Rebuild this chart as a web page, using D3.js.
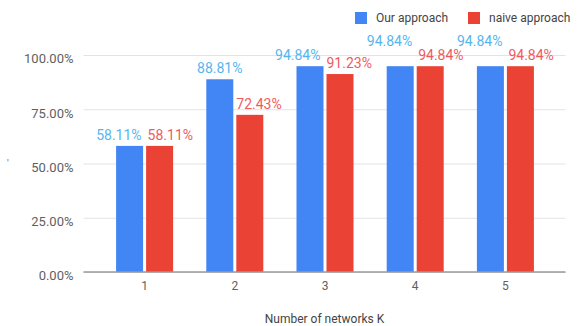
<html>
<head>
<meta charset="utf-8">
<title>Number of networks K</title>
<script src="https://d3js.org/d3.v7.min.js"></script>
<style>
  body { margin: 0; background: #fff; }
  text { font-family: Roboto, "Noto Sans", sans-serif; }
</style>
</head>
<body>
<svg width="577" height="326"></svg>
<script>
// data
var categories = ["1", "2", "3", "4", "5"];
var seriesNames = ["Our approach", "naive approach"];
var ourApproach = [0.5811, 0.8881, 0.9484, 0.9484, 0.9484];
var naiveApproach = [0.5811, 0.7243, 0.9123, 0.9484, 0.9484];
var yTicks = [0, 0.25, 0.5, 0.75, 1];

var barColors = ["#4285f4", "#ea4335"];
var labelColors = ["#55b6ef", "#ef5a60"];

var svg = d3.select("svg");
var gridLeft = 83.5, gridRight = 565.5;

var x0 = d3.scaleBand().domain(categories).range([99.5, 550.5])
  .paddingInner(0.368).paddingOuter(0.184);
var x1 = d3.scaleBand().domain(seriesNames).range([0, x0.bandwidth()]).paddingInner(0.1);
var y = d3.scaleLinear().domain([0, 1]).range([272, 55]);
var fmt = d3.format(".2%");

// y axis + gridlines
var yAxis = svg.append("g").attr("transform", "translate(" + gridLeft + ",0)")
  .call(d3.axisLeft(y).tickValues(yTicks).tickFormat(fmt)
    .tickSize(-(gridRight - gridLeft)).tickPadding(10));
yAxis.select(".domain").remove();
yAxis.selectAll("line").attr("stroke", "#e3e3e3");
yAxis.selectAll("text").attr("fill", "#5f5f5f").attr("font-size", 13).attr("dy", "0.6em");

// bars
var rows = categories.map(function(c, i) { return [ourApproach[i], naiveApproach[i]]; });
var groups = svg.append("g").selectAll("g").data(rows).join("g")
  .attr("transform", function(d, i) { return "translate(" + x0(categories[i]) + ",0)"; });
groups.selectAll("rect").data(function(d) { return d; }).join("rect")
  .attr("x", function(d, j) { return x1(seriesNames[j]); })
  .attr("y", function(d) { return y(d); })
  .attr("width", x1.bandwidth())
  .attr("height", function(d) { return y(0) - y(d); })
  .attr("fill", function(d, j) { return barColors[j]; });

// zero line
svg.append("line").attr("x1", gridLeft).attr("x2", gridRight)
  .attr("y1", y(0)).attr("y2", y(0)).attr("stroke", "#9a9a9a").attr("stroke-width", 1.5);

// x axis
var xAxis = svg.append("g").attr("transform", "translate(0," + y(0) + ")")
  .call(d3.axisBottom(x0).tickSize(0).tickPadding(9));
xAxis.select(".domain").remove();
xAxis.selectAll("text").attr("fill", "#5f5f5f").attr("font-size", 12);

// axis titles
svg.append("text").attr("x", (gridLeft + gridRight) / 2).attr("y", 323)
  .attr("text-anchor", "middle").attr("font-size", 12).attr("fill", "#444")
  .text("Number of networks K");
svg.append("text").attr("x", 7).attr("y", 167).attr("font-size", 10)
  .attr("fill", "#666").text("'");

// legend
var legend = svg.append("g");
var legendX = [355, 468];
seriesNames.forEach(function(name, j) {
  legend.append("rect").attr("x", legendX[j]).attr("y", 12).attr("width", 12).attr("height", 12)
    .attr("fill", barColors[j]);
  legend.append("text").attr("x", legendX[j] + 21).attr("y", 22).attr("font-size", 12)
    .attr("fill", "#444").text(name);
});

// data labels with simple collision avoidance
var labelLayer = svg.append("g");
var placed = [];
function box(l) { return { x0: l.cx - l.w / 2, x1: l.cx + l.w / 2, y0: l.base - 11, y1: l.base + 2 }; }
function hit(a, b) {
  var p = box(a), q = box(b);
  return p.x0 < q.x1 && q.x0 < p.x1 && p.y0 < q.y1 && q.y0 < p.y1;
}
categories.forEach(function(c, i) {
  var ls = rows[i].map(function(v, j) {
    var t = labelLayer.append("text").attr("font-size", 14).attr("fill", labelColors[j])
      .attr("text-anchor", "middle").text(fmt(v));
    var left = x0(c) + x1(seriesNames[j]);
    return { t: t, v: v, w: t.node().getComputedTextLength(), left: left,
      right: left + x1.bandwidth(), cx: left + x1.bandwidth() / 2, base: y(v) - 6, moved: false };
  });
  var b = ls[0], r = ls[1];
  // keep the lower label clear of the taller neighbouring bar
  if (r.v < b.v - 1e-6 && r.cx - r.w / 2 < b.right + 3) { r.cx = b.right + 3 + r.w / 2; r.moved = true; }
  if (b.v < r.v - 1e-6 && b.cx + b.w / 2 > r.left - 3) { b.cx = r.left - 3 - b.w / 2; b.moved = true; }
  // spread the pair sideways if they overlap
  if (hit(b, r)) {
    var ov = (b.cx + b.w / 2) - (r.cx - r.w / 2) + 6;
    if (r.moved) b.cx -= ov;
    else if (b.moved) r.cx += ov;
    else { b.cx -= ov / 2; r.cx += ov / 2; }
  }
  ls.forEach(function(l, j) {
    var sib = ls[1 - j];
    var guard = 0;
    while (guard++ < 10) {
      var other = placed.find(function(p) { return hit(l, p); });
      if (!other) break;
      // stack above the sibling label first, then above whatever is still in the way
      l.base = Math.min(l.base, sib.base) - 14;
      if (guard > 1) l.base = box(other).y0 - 3;
    }
    placed.push(l);
    l.t.attr("x", l.cx).attr("y", l.base);
  });
});
</script>
</body>
</html>
